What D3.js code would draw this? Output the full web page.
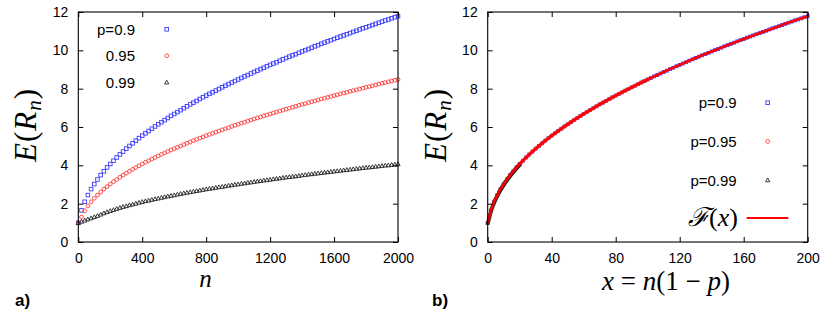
<!DOCTYPE html>
<html><head><meta charset="utf-8">
<script src="https://cdn.jsdelivr.net/npm/d3@7"></script>
<style>
body{margin:0;background:#fff;}
svg{display:block;}
.tick text{font-family:"Liberation Sans",Arial,sans-serif;font-size:14px;fill:#000;}
.tick line{stroke:#000;stroke-width:1;}
</style></head>
<body><svg id="c" width="830" height="319"></svg>
<script>
// ---- data ----
const nGrid = d3.range(0, 2001, 20);               // n values for every series
const pLabels = ["p=0.9", "p=0.95", "p=0.99"];
const pVals = [0.9, 0.95, 0.99];
const E_p90 = [1.00,1.65,2.10,2.45,2.76,3.02,3.26,3.49,3.69,3.89,
4.07,4.24,4.41,4.57,4.72,4.87,5.01,5.15,5.29,5.42,
5.55,5.67,5.79,5.91,6.03,6.14,6.25,6.36,6.47,6.58,
6.68,6.78,6.88,6.98,7.08,7.18,7.27,7.36,7.46,7.55,
7.64,7.73,7.81,7.90,7.98,8.07,8.15,8.24,8.32,8.40,
8.48,8.56,8.64,8.71,8.79,8.87,8.94,9.02,9.09,9.17,
9.24,9.31,9.38,9.46,9.53,9.60,9.67,9.74,9.80,9.87,
9.94,10.01,10.07,10.14,10.21,10.27,10.34,10.40,10.47,10.53,
10.59,10.66,10.72,10.78,10.84,10.90,10.96,11.02,11.09,11.15,
11.20,11.26,11.32,11.38,11.44,11.50,11.56,11.61,11.67,11.73,
11.78];
const E_p95 = [1.00,1.30,1.63,1.88,2.10,2.28,2.45,2.61,2.76,2.89,
3.02,3.15,3.26,3.38,3.49,3.59,3.69,3.79,3.89,3.98,
4.07,4.16,4.24,4.33,4.41,4.49,4.57,4.65,4.72,4.80,
4.87,4.94,5.01,5.08,5.15,5.22,5.29,5.35,5.42,5.48,
5.55,5.61,5.67,5.73,5.79,5.85,5.91,5.97,6.03,6.09,
6.14,6.20,6.25,6.31,6.36,6.42,6.47,6.52,6.58,6.63,
6.68,6.73,6.78,6.83,6.88,6.93,6.98,7.03,7.08,7.13,
7.18,7.22,7.27,7.32,7.36,7.41,7.46,7.50,7.55,7.59,
7.64,7.68,7.73,7.77,7.81,7.86,7.90,7.94,7.98,8.03,
8.07,8.11,8.15,8.19,8.24,8.28,8.32,8.36,8.40,8.44,
8.48];
const E_p99 = [1.00,1.07,1.13,1.19,1.25,1.31,1.37,1.44,1.51,1.57,
1.63,1.68,1.74,1.79,1.84,1.88,1.93,1.97,2.01,2.06,
2.10,2.14,2.17,2.21,2.25,2.28,2.32,2.35,2.39,2.42,
2.45,2.49,2.52,2.55,2.58,2.61,2.64,2.67,2.70,2.73,
2.76,2.79,2.81,2.84,2.87,2.89,2.92,2.95,2.97,3.00,
3.02,3.05,3.07,3.10,3.12,3.15,3.17,3.19,3.22,3.24,
3.26,3.29,3.31,3.33,3.36,3.38,3.40,3.42,3.44,3.46,
3.49,3.51,3.53,3.55,3.57,3.59,3.61,3.63,3.65,3.67,
3.69,3.71,3.73,3.75,3.77,3.79,3.81,3.83,3.85,3.87,
3.89,3.90,3.92,3.94,3.96,3.98,4.00,4.01,4.03,4.05,
4.07];
// scaling function F(x)
const F_x = [0,0.5,1,1.5,2,3,4,5,6,8,10,12,15,20,25,30,40,50,60,70,80,90,100,110,120,130,140,150,160,170,180,190,200];
const F_y = [1.00,1.19,1.32,1.47,1.63,1.88,2.10,2.28,2.45,2.76,3.02,3.26,3.59,4.07,4.49,4.87,5.55,6.14,6.68,7.18,7.64,8.07,8.48,8.87,9.24,9.60,9.94,10.27,10.59,10.90,11.20,11.50,11.78];
const xTicksA = [0,400,800,1200,1600,2000];
const xTicksB = [0,40,80,120,160,200];
const yTicks = [0,2,4,6,8,10,12];

// ---- drawing ----
const svg = d3.select("#c");
const series = [E_p90, E_p95, E_p99];
const colors = ["#3b3bff", "#ff3b3b", "#222222"];
const SANS = '"Liberation Sans",Arial,sans-serif';
const SERIF = '"Liberation Serif","Times New Roman",serif';

function marker(g, i, cx, cy, k = 1) {
  if (i === 0) {
    const h = 1.8 * k;
    g.append("rect").attr("x", cx - h).attr("y", cy - h).attr("width", 2 * h).attr("height", 2 * h)
      .attr("fill", "none").attr("stroke", colors[0]).attr("stroke-width", 0.9);
  } else if (i === 1) {
    g.append("circle").attr("cx", cx).attr("cy", cy).attr("r", 1.9 * k)
      .attr("fill", "none").attr("stroke", colors[1]).attr("stroke-width", 0.9);
  } else {
    const s = 2.1 * k;
    g.append("path").attr("d", `M${cx},${cy - s}L${cx + s},${cy + s * 0.8}L${cx - s},${cy + s * 0.8}Z`)
      .attr("fill", "none").attr("stroke", colors[2]).attr("stroke-width", 0.9);
  }
}

function frame(x, y, xTicks) {
  const g = svg.append("g");
  const [x0, x1] = x.range(), [y0, y1] = y.range();
  g.append("g").attr("transform", `translate(0,${y0})`)
    .call(d3.axisBottom(x).tickValues(xTicks).tickSize(-5).tickPadding(11).tickFormat(d3.format("d")))
    .call(a => a.select(".domain").remove());
  g.append("g").attr("transform", `translate(${x0},0)`)
    .call(d3.axisLeft(y).tickValues(yTicks).tickSize(-5).tickPadding(10).tickFormat(d3.format("d")))
    .call(a => a.select(".domain").remove());
  g.append("g").attr("transform", `translate(0,${y1})`)
    .call(d3.axisTop(x).tickValues(xTicks).tickSize(-5).tickFormat(""))
    .call(a => a.select(".domain").remove());
  g.append("g").attr("transform", `translate(${x1},0)`)
    .call(d3.axisRight(y).tickValues(yTicks).tickSize(-5).tickFormat(""))
    .call(a => a.select(".domain").remove());
  g.append("rect").attr("x", x0).attr("y", y1).attr("width", x1 - x0).attr("height", y0 - y1)
    .attr("fill", "none").attr("stroke", "#000").attr("stroke-width", 1.1);
}

function yLabel(cx) {
  const t = svg.append("text").attr("transform", `translate(${cx},125) rotate(-90)`)
    .attr("text-anchor", "middle").attr("font-family", SERIF).attr("font-size", 31)
    .attr("letter-spacing", 1).attr("dy", "0.3em");
  t.append("tspan").attr("font-style", "italic").text("E");
  t.append("tspan").text("(");
  t.append("tspan").attr("font-style", "italic").text("R");
  t.append("tspan").attr("font-style", "italic").attr("font-size", 21).attr("dy", 5).text("n");
  t.append("tspan").attr("dy", -5).text(")");
}

// ---- panel a ----
const xa = d3.scaleLinear().domain([0, 2000]).range([78.3, 398]);
const y = d3.scaleLinear().domain([0, 12]).range([242, 12]);
const xb = d3.scaleLinear().domain([0, 200]).range([487.7, 807.7]);

const ga = svg.append("g");
series.forEach((vals, i) => {
  const g = ga.append("g");
  vals.forEach((v, k) => marker(g, i, xa(nGrid[k]), y(v)));
});
frame(xa, y, xTicksA);
// legend a
const legA = ["p=0.9", "0.95", "0.99"];
legA.forEach((s, i) => {
  const cy = 29.3 + i * 26.5;
  svg.append("text").attr("x", 135).attr("y", cy + 5.4).attr("text-anchor", "end")
    .attr("font-family", SANS).attr("font-size", 15).text(s);
  marker(svg.append("g"), i, 166.7, cy);
});
yLabel(27);
svg.append("text").attr("x", 205.5).attr("y", 287).attr("text-anchor", "middle")
  .attr("font-family", SERIF).attr("font-style", "italic").attr("font-size", 25).text("n");
svg.append("text").attr("x", 15).attr("y", 306).attr("font-family", SANS).attr("font-weight", "bold")
  .attr("font-size", 17).text("a)");

// ---- panel b ----
const gb = svg.append("g");
series.forEach((vals, i) => {
  const g = gb.append("g");
  vals.forEach((v, k) => marker(g, i, xb(nGrid[k] * (1 - pVals[i])), y(v), 0.8));
});
const line = d3.line().x((d, k) => xb(F_x[k])).y(d => y(d)).curve(d3.curveMonotoneX);
gb.append("path").datum(F_y).attr("d", line).attr("fill", "none").attr("stroke", "#ff0000").attr("stroke-width", 2.6);
frame(xb, y, xTicksB);
pLabels.forEach((s, i) => {
  const cy = 102.7 + i * 38.7;
  svg.append("text").attr("x", 736.7).attr("y", cy + 5.4).attr("text-anchor", "end")
    .attr("font-family", SANS).attr("font-size", 15).text(s);
  marker(svg.append("g"), i, 767.7, cy);
});
const fl = svg.append("text").attr("x", 738).attr("y", 226).attr("text-anchor", "end")
  .attr("font-family", SERIF).attr("font-size", 26);
fl.append("tspan").attr("font-family", '"DejaVu Serif",serif').attr("font-style", "italic").text("\u2131");
fl.append("tspan").text("(");
fl.append("tspan").attr("font-style", "italic").text("x");
fl.append("tspan").text(")");
svg.append("line").attr("x1", 746.7).attr("x2", 788.3).attr("y1", 218).attr("y2", 218)
  .attr("stroke", "#ff0000").attr("stroke-width", 2.2);
yLabel(437);
const xl = svg.append("text").attr("x", 666).attr("y", 290).attr("text-anchor", "middle")
  .attr("font-family", SERIF).attr("font-size", 27);
xl.append("tspan").attr("font-style", "italic").text("x");
xl.append("tspan").text(" = ");
xl.append("tspan").attr("font-style", "italic").text("n");
xl.append("tspan").text("(1 \u2212 ");
xl.append("tspan").attr("font-style", "italic").text("p");
xl.append("tspan").text(")");
svg.append("text").attr("x", 432).attr("y", 306).attr("font-family", SANS).attr("font-weight", "bold")
  .attr("font-size", 17).text("b)");
</script></body></html>
